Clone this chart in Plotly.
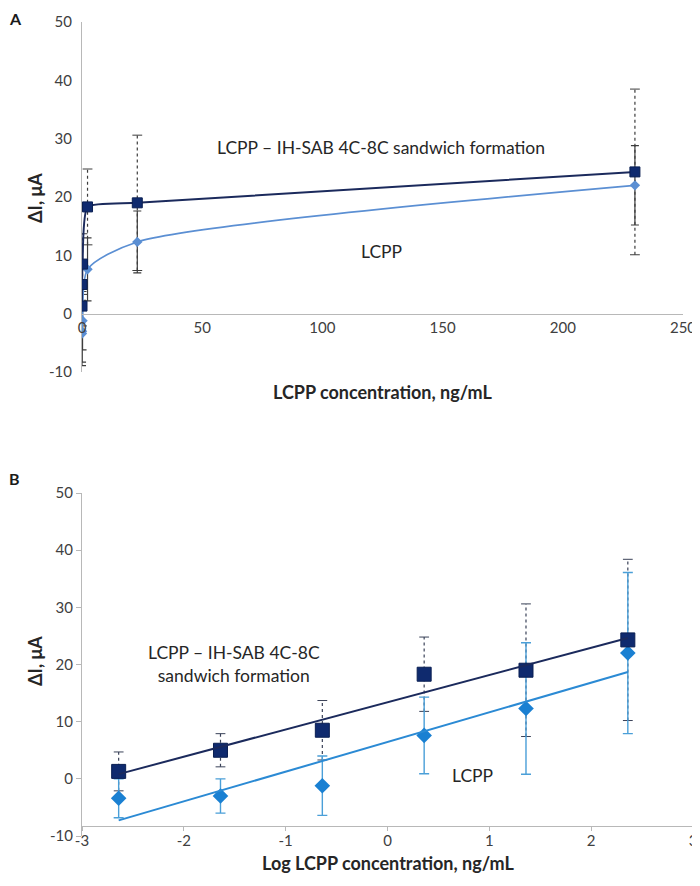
import numpy as np
import plotly.graph_objects as go

# page body adds an 8px offset; figure is sized to fit the 700x886 window
OFF = 8
W, H = 700 - OFF, 886 - OFF

# ---------------- data ----------------
conc = [0.0023, 0.023, 0.23, 2.3, 23, 230]          # ng/mL
log_conc = [-2.64, -1.64, -0.64, 0.36, 1.36, 2.36]  # log ng/mL

sandwich = [1.3, 5.0, 8.5, 18.3, 19.0, 24.3]
lcpp = [-3.4, -3.0, -1.2, 7.6, 12.3, 22.0]

sandwich_err_A = [3.4, 2.9, 5.2, 6.5, 11.6, 14.2]
lcpp_err_A = [5.5, 5.3, 5.0, 5.4, 5.3, 6.8]

sandwich_err_B = [3.4, 2.9, 5.2, 6.5, 11.6, 14.1]
lcpp_err_B = [3.4, 3.0, 5.2, 6.7, 11.5, 14.1]

x_ticks_A = [0, 50, 100, 150, 200, 250]
x_labels_A = ["0", "50", "100", "150", "200", "250"]
x_ticks_B = [-3, -2, -1, 0, 1, 2, 3]
x_labels_B = ["-3", "-2", "-1", "0", "1", "2", "3"]
y_ticks = [-10, 0, 10, 20, 30, 40, 50]
y_labels = ["-10", "0", "10", "20", "30", "40", "50"]

FONT = "Lato"
NAVY = "#0f2a6e"
NAVY_LINE = "#1b2a5c"
LIGHT_A = "#5b8fd3"
BLUE_B = "#1a80d2"
BLUE_B_LINE = "#2b8ad4"
GREY = "#3c3c3c"


def px(x):
    return (x - OFF) / W


def py(y):
    return 1 - (y - OFF) / H


def dashed_bars(xs, ys, errs, xref, yref, color):
    lx, ly = [], []
    for x, y, e in zip(xs, ys, errs):
        lx += [x, x, None]
        ly += [y - e, y + e, None]
    line = go.Scatter(x=lx, y=ly, mode="lines", xaxis=xref, yaxis=yref,
                      line=dict(color=color, width=1.2, dash="dot"),
                      hoverinfo="skip", showlegend=False)
    caps = go.Scatter(x=list(xs) + list(xs),
                      y=[y - e for y, e in zip(ys, errs)] + [y + e for y, e in zip(ys, errs)],
                      mode="markers", xaxis=xref, yaxis=yref,
                      marker=dict(symbol="line-ew", size=7,
                                  line=dict(color=color, width=1)),
                      hoverinfo="skip", showlegend=False)
    return [line, caps]


fig = go.Figure()

# ---------------- panel A ----------------
for t in dashed_bars(conc, sandwich, sandwich_err_A, "x", "y", GREY):
    fig.add_trace(t)

fig.add_trace(go.Scatter(
    x=conc, y=lcpp, mode="lines+markers", xaxis="x", yaxis="y",
    line=dict(color=LIGHT_A, width=1.6, shape="spline", smoothing=0.7),
    marker=dict(symbol="diamond", size=8, color=LIGHT_A),
    error_y=dict(type="data", array=lcpp_err_A, color=GREY, thickness=1.2, width=4),
    showlegend=False))

fig.add_trace(go.Scatter(
    x=conc, y=sandwich, mode="lines+markers", xaxis="x", yaxis="y",
    line=dict(color=NAVY_LINE, width=2, shape="spline", smoothing=0.5),
    marker=dict(symbol="square", size=10, color=NAVY,
                line=dict(color="#0a1f52", width=1)),
    showlegend=False))

# ---------------- panel B ----------------
fitS = np.polyfit(log_conc, sandwich, 1)
fitL = np.polyfit(log_conc, lcpp, 1)
xfit = [log_conc[0], log_conc[-1]]

for t in dashed_bars(log_conc, sandwich, sandwich_err_B, "x2", "y2", "#3a4258"):
    fig.add_trace(t)

fig.add_trace(go.Scatter(
    x=log_conc, y=lcpp, mode="markers", xaxis="x2", yaxis="y2",
    marker=dict(symbol="diamond", size=12, color=BLUE_B),
    error_y=dict(type="data", array=lcpp_err_B, color="#4a9fd8", thickness=1.4, width=5),
    showlegend=False))

fig.add_trace(go.Scatter(
    x=log_conc, y=sandwich, mode="markers", xaxis="x2", yaxis="y2",
    marker=dict(symbol="square", size=14, color=NAVY,
                line=dict(color="#0a1f52", width=1)),
    showlegend=False))

fig.add_trace(go.Scatter(
    x=xfit, y=list(np.polyval(fitL, xfit)), mode="lines", xaxis="x2", yaxis="y2",
    line=dict(color=BLUE_B_LINE, width=2), showlegend=False))
fig.add_trace(go.Scatter(
    x=xfit, y=list(np.polyval(fitS, xfit)), mode="lines", xaxis="x2", yaxis="y2",
    line=dict(color=NAVY_LINE, width=2), showlegend=False))

axis_common = dict(showgrid=False, zeroline=False, showline=True, automargin=False,
                   linecolor="#b8b8b8", linewidth=1,
                   tickfont=dict(family=FONT, size=15, color="#404040"))

fig.update_layout(
    width=W, height=H,
    margin=dict(l=0, r=0, t=0, b=0, autoexpand=False),
    paper_bgcolor="white", plot_bgcolor="white",
    font=dict(family=FONT, color="#262626"),
    xaxis=dict(domain=[px(82), px(683)], range=[0, 250],
               tickvals=x_ticks_A, ticktext=x_labels_A,
               anchor="free", position=py(314), ticks="", **axis_common),
    yaxis=dict(domain=[py(372), py(22)], range=[-10, 50],
               tickvals=y_ticks, ticktext=y_labels,
               anchor="x", ticks="", ticklabelstandoff=6, **axis_common),
    xaxis2=dict(domain=[px(82), px(693)], range=[-3, 3],
                tickvals=x_ticks_B, ticktext=x_labels_B,
                anchor="free", position=py(826), ticks="outside", ticklen=4,
                ticklabelstandoff=-3,
                tickcolor="#b8b8b8", **axis_common),
    yaxis2=dict(domain=[py(836), py(493)], range=[-10, 50],
                tickvals=y_ticks, ticktext=y_labels,
                anchor="x2", ticks="outside", ticklen=5, tickcolor="#b8b8b8",
                **axis_common),
)

ann_font = dict(family=FONT, size=17.5, color="#262626")
title_font = dict(family=FONT, size=18, color="#262626")
panel_font = dict(family=FONT, size=16, color="#1a1a1a")


def ann(text, x, y, font, xanchor="center", yanchor="middle", **kw):
    return dict(text=text, x=px(x), y=py(y), xref="paper", yref="paper",
                xanchor=xanchor, yanchor=yanchor, showarrow=False,
                font=font, **kw)


annotations = [
    ann("<b>A</b>", 8, 8, panel_font, xanchor="left", yanchor="top", borderpad=0),
    ann("<b>B</b>", 8, 468, panel_font, xanchor="left", yanchor="top", borderpad=0),
    ann("<b>ΔI, μA</b>", 35, 198, title_font, textangle=-90),
    ann("<b>ΔI, μA</b>", 35, 661, title_font, textangle=-90),
    ann("<b>LCPP concentration, ng/mL</b>", 382, 392, title_font),
    ann("<b>Log LCPP concentration, ng/mL</b>", 388, 863, title_font),
    ann("LCPP – IH-SAB 4C-8C sandwich formation", 381, 147, ann_font),
    ann("LCPP", 381, 251, ann_font),
    ann("LCPP – IH-SAB 4C-8C<br>sandwich formation", 234, 664, ann_font),
    ann("LCPP", 473, 775, ann_font),
]
fig.update_layout(annotations=annotations)

fig.write_html("out.html")
